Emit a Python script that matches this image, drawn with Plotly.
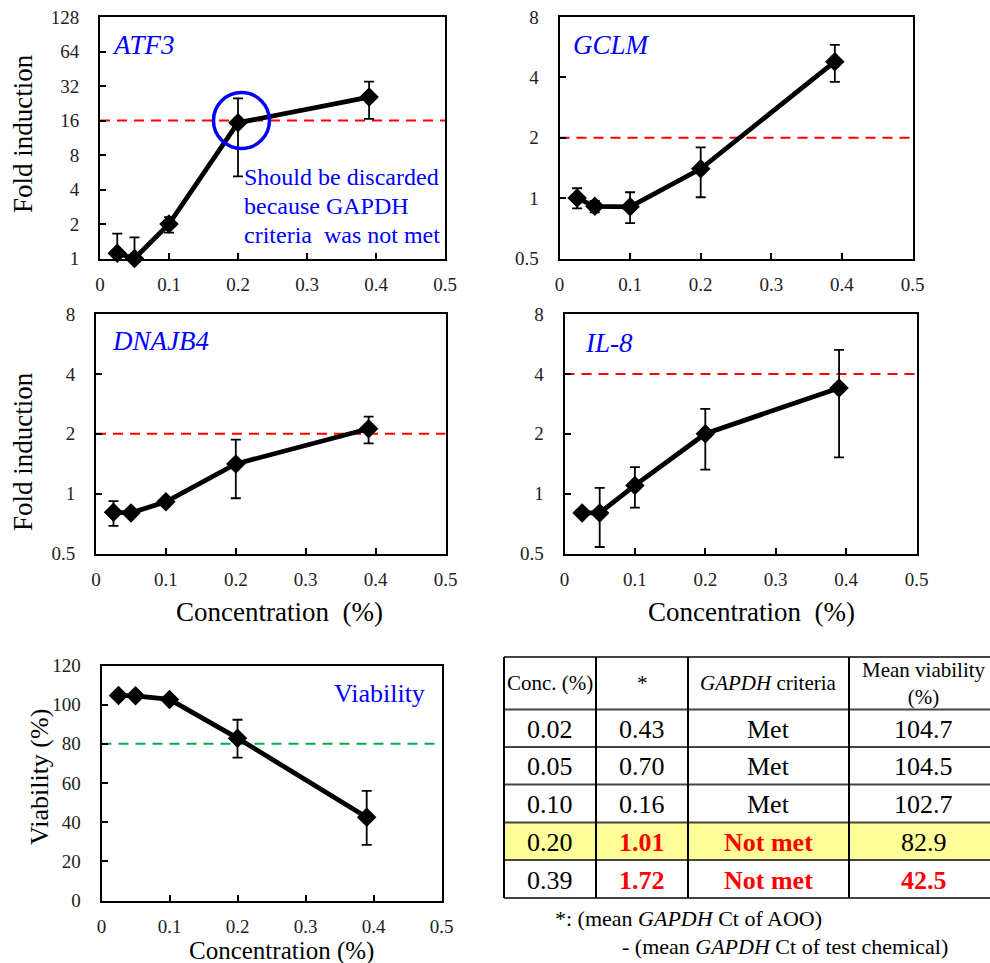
import plotly.graph_objects as go
import math

# ---------------- data ----------------
conc = [0.025, 0.05, 0.1, 0.2, 0.39]
x_ticks = [0, 0.1, 0.2, 0.3, 0.4, 0.5]
x_ticktext = ["0", "0.1", "0.2", "0.3", "0.4", "0.5"]

genes = ["ATF3", "GCLM", "DNAJB4", "IL-8"]

atf3_fold = [1.11, 1.0, 2.0, 15.3, 25.6]
atf3_upper = [1.65, 1.53, 2.3, 25.0, 35.0]
atf3_lower = [0.57, 0.47, 1.68, 5.2, 16.5]

gclm_fold = [1.0, 0.91, 0.905, 1.40, 4.79]
gclm_upper = [1.12, 0.97, 1.07, 1.79, 5.81]
gclm_lower = [0.89, 0.85, 0.75, 1.01, 3.80]

dnajb4_fold = [0.805, 0.80, 0.91, 1.41, 2.12]
dnajb4_upper = [0.916, 0.82, 0.94, 1.87, 2.44]
dnajb4_lower = [0.688, 0.78, 0.88, 0.948, 1.79]

il8_fold = [0.80, 0.80, 1.10, 2.0, 3.40]
il8_upper = [0.83, 1.07, 1.36, 2.67, 5.28]
il8_lower = [0.77, 0.539, 0.85, 1.32, 1.52]

fold_thresholds = [16, 2, 2, 4]

atf3_yticks = [1, 2, 4, 8, 16, 32, 64, 128]
fold_yticks = [0.5, 1, 2, 4, 8]

viab_mean = [104.7, 104.5, 102.7, 82.9, 42.5]
viab_upper = [105.3, 105.1, 103.3, 92.3, 56.0]
viab_lower = [104.1, 103.9, 102.1, 73.0, 28.4]
viab_threshold = 80
viab_yticks = [0, 20, 40, 60, 80, 100, 120]

circle_conc = 0.205
circle_fold = 16
discard_lines = ["Should be discarded", "because GAPDH", "criteria\u00a0 was not met"]

tbl_header = ["Conc. (%)", "*", "<i>GAPDH</i> criteria", "Mean viability<br>(%)"]
tbl_conc = ["0.02", "0.05", "0.10", "0.20", "0.39"]
tbl_star = ["0.43", "0.70", "0.16", "1.01", "1.72"]
tbl_criteria = ["Met", "Met", "Met", "Not met", "Not met"]
tbl_viab = ["104.7", "104.5", "102.7", "82.9", "42.5"]
footnote_lines = ["*: (mean <i>GAPDH</i> Ct of AOO)",
                  "- (mean <i>GAPDH</i> Ct of test chemical)"]

# ---------------- layout helpers ----------------
W, H = 990, 963
FONT = "Liberation Serif, DejaVu Serif, Noto Serif, serif"
BLUE = "#0000ff"
RED = "#ff0000"


def fx(p):
    return p / W


def fy(p):
    return 1 - p / H


# panel boxes in pixels: left, right, top, bottom
boxes = [
    (100, 445, 17, 258.5),
    (559.5, 912.5, 17, 258.5),
    (96, 445.5, 314, 553.5),
    (564.5, 916.5, 314, 553.5),
    (101.5, 441.5, 665.5, 900.5),
]

fig = go.Figure()
layout = dict(
    width=W, height=H,
    margin=dict(l=0, r=0, t=0, b=0, pad=0, autoexpand=False),
    paper_bgcolor="white", plot_bgcolor="white",
    showlegend=False,
    font=dict(family=FONT, color="black"),
)

axis_common = dict(
    showline=True, linecolor="black", linewidth=2, mirror=True,
    showgrid=False, zeroline=False, automargin=False,
    ticks="inside", ticklen=6, tickwidth=1.5, tickcolor="black",
    tickfont=dict(family=FONT, size=19, color="#222"),
)

for i, (l, r, t, b) in enumerate(boxes):
    k = "" if i == 0 else str(i + 1)
    xa = dict(axis_common, domain=[fx(l), fx(r)], anchor="y" + k, range=[0, 0.5],
              tickvals=x_ticks, ticktext=x_ticktext, ticklabelstandoff=8)
    if i == 0:
        ya = dict(type="log", range=[math.log10(atf3_yticks[0]), math.log10(atf3_yticks[-1])],
                  tickvals=atf3_yticks, ticktext=[str(v) for v in atf3_yticks])
    elif i < 4:
        ya = dict(type="log", range=[math.log10(fold_yticks[0]), math.log10(fold_yticks[-1])],
                  tickvals=fold_yticks, ticktext=[str(v) for v in fold_yticks])
    else:
        ya = dict(type="linear", range=[0, 120], tickvals=viab_yticks,
                  ticktext=[str(v) for v in viab_yticks])
    ya = dict(axis_common, domain=[fy(b), fy(t)], anchor="x" + k, ticklabelstandoff=15, **ya)
    layout["xaxis" + k] = xa
    layout["yaxis" + k] = ya

fold_series = [
    (atf3_fold, atf3_upper, atf3_lower),
    (gclm_fold, gclm_upper, gclm_lower),
    (dnajb4_fold, dnajb4_upper, dnajb4_lower),
    (il8_fold, il8_upper, il8_lower),
    (viab_mean, viab_upper, viab_lower),
]
thresholds = fold_thresholds + [viab_threshold]
thr_colors = [RED, RED, RED, RED, "#00b050"]

for i, (m, up, lo) in enumerate(fold_series):
    k = "" if i == 0 else str(i + 1)
    xr, yr = "x" + k, "y" + k
    fig.add_trace(go.Scatter(x=[x_ticks[0], x_ticks[-1]], y=[thresholds[i]] * 2, mode="lines",
                             line=dict(color=thr_colors[i], width=2, dash="10px,7px"),
                             xaxis=xr, yaxis=yr, hoverinfo="skip"))
    fig.add_trace(go.Scatter(
        x=conc, y=m, mode="lines", line=dict(color="black", width=4.8),
        error_y=dict(type="data", symmetric=False,
                     array=[u - v for u, v in zip(up, m)],
                     arrayminus=[v - d for v, d in zip(m, lo)],
                     color="black", thickness=1.8, width=5),
        xaxis=xr, yaxis=yr))
    fig.add_trace(go.Scatter(
        x=conc, y=m, mode="markers", cliponaxis=False,
        marker=dict(symbol="diamond", size=15, color="black"),
        xaxis=xr, yaxis=yr))

# blue circle around the discarded ATF3 point
fig.add_trace(go.Scatter(
    x=[circle_conc], y=[circle_fold], mode="markers", cliponaxis=False,
    marker=dict(symbol="circle-open", size=56, color=BLUE, line=dict(width=3.5, color=BLUE)),
    xaxis="x", yaxis="y"))

annotations = []


def text(x, y, s, size, color="black", xanchor="center", yanchor="middle", angle=0):
    annotations.append(dict(x=fx(x), y=fy(y), xref="paper", yref="paper", text=s,
                            showarrow=False, xanchor=xanchor, yanchor=yanchor,
                            textangle=angle, font=dict(family=FONT, size=size, color=color)))


# gene labels
gene_pos = [(110, 45), (571, 45), (110, 341), (583, 343)]
for g, (gx, gy) in zip(genes, gene_pos):
    text(gx, gy, "<i>" + g + "</i>", 27, BLUE, xanchor="left")
text(427, 693, "Viability", 26, BLUE, xanchor="right")

# discard note
for j, line in enumerate(discard_lines):
    text(242, 177 + 29 * j, line, 24, BLUE, xanchor="left")

# axis titles
text(23, 134, "Fold induction", 27, angle=-90)
text(23, 452, "Fold induction", 27, angle=-90)
text(39, 777, "Viability (%)", 26, angle=-90)
text(279, 612, "Concentration\u00a0 (%)", 27)
text(751, 612, "Concentration\u00a0 (%)", 27)
text(281, 951, "Concentration (%)", 25)

# ---------------- table ----------------
col_edges = [504, 596, 688, 849, 998]
row_edges = [657, 709.5, 747, 784.5, 822.5, 860, 898]
shapes = []
rows = list(zip(tbl_conc, tbl_star, tbl_criteria, tbl_viab))
for r, (c, s, cr, v) in enumerate(rows):
    highlight = cr != "Met" and float(v) >= viab_threshold
    if highlight:
        shapes.append(dict(type="rect", xref="paper", yref="paper",
                           x0=fx(col_edges[0]), x1=fx(col_edges[-1]),
                           y0=fy(row_edges[r + 2]), y1=fy(row_edges[r + 1]),
                           fillcolor="#ffff99", line=dict(width=0), layer="below"))
for yy in row_edges:
    shapes.append(dict(type="line", xref="paper", yref="paper",
                       x0=fx(col_edges[0]), x1=fx(col_edges[-1]), y0=fy(yy), y1=fy(yy),
                       line=dict(color="#444", width=2)))
for xx in col_edges[:-1]:
    shapes.append(dict(type="line", xref="paper", yref="paper",
                       x0=fx(xx), x1=fx(xx), y0=fy(row_edges[0]), y1=fy(row_edges[-1]),
                       line=dict(color="black", width=2)))

centers = [(col_edges[i] + col_edges[i + 1]) / 2 for i in range(4)]
hy = (row_edges[0] + row_edges[1]) / 2
for i, h in enumerate(tbl_header):
    text(centers[i], hy, h, 21)
for r, (c, s, cr, v) in enumerate(rows):
    cy = (row_edges[r + 1] + row_edges[r + 2]) / 2 + 1
    star_bad = float(s) >= 1
    viab_bad = float(v) < 50
    text(centers[0], cy, c, 26)
    text(centers[1], cy, "<b>%s</b>" % s if star_bad else s, 26, RED if star_bad else "black")
    text(centers[2], cy, "<b>%s</b>" % cr if cr != "Met" else cr, 26, RED if cr != "Met" else "black")
    text(centers[3], cy, "<b>%s</b>" % v if viab_bad else v, 26, RED if viab_bad else "black")

text(553, 918, footnote_lines[0], 22, xanchor="left")
text(620, 946, footnote_lines[1], 22, xanchor="left")

layout["annotations"] = annotations
layout["shapes"] = shapes
fig.update_layout(**layout)
fig.write_html("out.html")
